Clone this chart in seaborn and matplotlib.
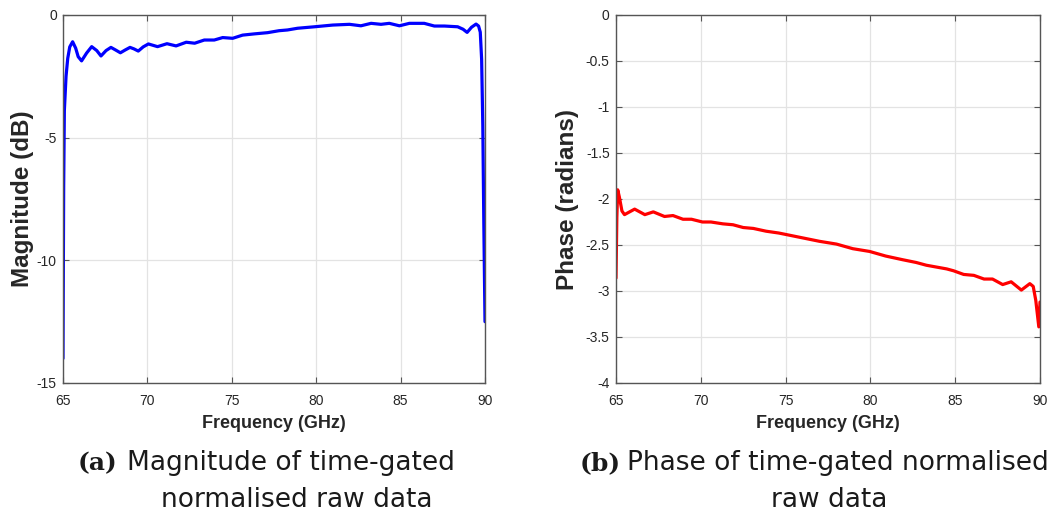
import numpy as np
import pandas as pd
import matplotlib
matplotlib.use('Agg')
import matplotlib.pyplot as plt
import seaborn as sns

# magnitude of time-gated normalised raw data (dB)
mag_freq = [65.0, 65.04, 65.08, 65.18, 65.28, 65.4, 65.57, 65.75, 65.9, 66.1,
            66.4, 66.7, 67.0, 67.25, 67.55, 67.84, 68.1, 68.4, 68.7, 68.97,
            69.2, 69.46, 69.75, 70.06, 70.6, 71.16, 71.7, 72.3, 72.8, 73.37,
            73.96, 74.46, 75.05, 75.64, 76.33, 77.12, 77.8, 78.3, 78.9, 79.9,
            80.98, 81.97, 82.65, 83.25, 83.84, 84.33, 84.93, 85.52, 86.4, 87.0,
            87.6, 88.38, 88.7, 88.94, 89.2, 89.47, 89.62, 89.72, 89.8, 89.87,
            89.93, 90.0]
mag_db = [-14.0, -7.0, -3.9, -2.5, -1.77, -1.3, -1.09, -1.35, -1.7, -1.87,
          -1.55, -1.29, -1.45, -1.67, -1.45, -1.32, -1.42, -1.54, -1.42, -1.32,
          -1.38, -1.47, -1.3, -1.18, -1.29, -1.17, -1.26, -1.11, -1.15, -1.02,
          -1.02, -0.92, -0.95, -0.82, -0.77, -0.72, -0.64, -0.61, -0.54, -0.48,
          -0.41, -0.38, -0.44, -0.34, -0.38, -0.34, -0.44, -0.34, -0.34, -0.45,
          -0.45, -0.48, -0.58, -0.71, -0.5, -0.37, -0.45, -0.7, -1.8, -4.5,
          -8.5, -12.5]

# phase of time-gated normalised raw data (rad)
ph_freq = [65.0, 65.05, 65.1, 65.2, 65.35, 65.5, 65.8, 66.1, 66.4, 66.7,
           67.2, 67.86, 68.36, 68.95, 69.45, 70.1, 70.6, 71.3, 71.9, 72.5,
           73.1, 73.85, 74.6, 75.4, 76.2, 77.0, 78.0, 78.96, 79.95, 80.9,
           81.9, 82.7, 83.3, 83.9, 84.5, 84.9, 85.5, 86.1, 86.7, 87.2,
           87.8, 88.3, 88.9, 89.4, 89.6, 89.75, 89.93, 90.0]
ph_rad = [-2.86, -2.2, -1.90, -1.98, -2.13, -2.17, -2.14, -2.11, -2.14, -2.17,
          -2.14, -2.19, -2.18, -2.22, -2.22, -2.25, -2.25, -2.27, -2.28, -2.31,
          -2.32, -2.35, -2.37, -2.40, -2.43, -2.46, -2.49, -2.54, -2.57, -2.62,
          -2.66, -2.69, -2.72, -2.74, -2.76, -2.78, -2.82, -2.83, -2.87, -2.87,
          -2.93, -2.90, -2.99, -2.92, -2.95, -3.1, -3.39, -3.12]

x_ticks = [65, 70, 75, 80, 85, 90]
mag_ticks = [0, -5, -10, -15]
ph_ticks = [0, -0.5, -1, -1.5, -2, -2.5, -3, -3.5, -4]

sns.set_theme(style='white')
plt.rcParams['font.family'] = ['Liberation Sans', 'DejaVu Sans']

fig = plt.figure(figsize=(10.64, 5.2), dpi=100)
ax1 = fig.add_axes([63/1064, 1-383/520, 422/1064, 368/520])
ax2 = fig.add_axes([616/1064, 1-383/520, 424/1064, 368/520])

df_mag = pd.DataFrame({'f': mag_freq, 'v': mag_db})
df_ph = pd.DataFrame({'f': ph_freq, 'v': ph_rad})

sns.lineplot(data=df_mag, x='f', y='v', ax=ax1, color='#0000ff', linewidth=2.3)
sns.lineplot(data=df_ph, x='f', y='v', ax=ax2, color='#ff0000', linewidth=2.3)

for ax, yt, ylim, ylab, pad in [(ax1, mag_ticks, (-15, 0), 'Magnitude (dB)', 2),
                               (ax2, ph_ticks, (-4, 0), 'Phase (radians)', 5)]:
    ax.set_xlim(65, 90)
    ax.set_ylim(*ylim)
    ax.set_xticks(x_ticks)
    ax.set_yticks(yt)
    ax.set_yticklabels(['%g' % t for t in yt])
    ax.grid(True, color='#e3e3e3', linewidth=0.9)
    ax.set_axisbelow(True)
    for s in ax.spines.values():
        s.set_color('#555555')
        s.set_linewidth(1.0)
    ax.tick_params(direction='in', length=4, width=0.8, color='#555555',
                   labelsize=10, labelcolor='#262626',
                   top=True, right=True, bottom=True, left=True)
    ax.tick_params(axis='x', pad=8)
    ax.tick_params(axis='y', pad=4.5)
    ax.set_xlabel('Frequency (GHz)', fontsize=13, fontweight='bold',
                  color='#262626', labelpad=5)
    ax.set_ylabel(ylab, fontsize=17.5, fontweight='bold', color='#262626',
                  labelpad=pad)

cap_kw = dict(fontsize=19, family=['DejaVu Sans'], va='baseline', color='#1a1a1a')
lab_kw = dict(fontsize=18, family=['DejaVu Serif'], fontweight='bold',
              va='baseline', color='#1a1a1a')
y1 = 1 - 470/520
y2 = 1 - 507/520
fig.text(78/1064, y1, '(a)', ha='left', **lab_kw)
fig.text(127/1064, y1, 'Magnitude of time-gated', ha='left', **cap_kw)
fig.text(297/1064, y2, 'normalised raw data', ha='center', **cap_kw)
fig.text(580/1064, y1, '(b)', ha='left', **lab_kw)
fig.text(627/1064, y1, 'Phase of time-gated normalised', ha='left', **cap_kw)
fig.text(829/1064, y2, 'raw data', ha='center', **cap_kw)

fig.savefig('out.png', dpi=100)
